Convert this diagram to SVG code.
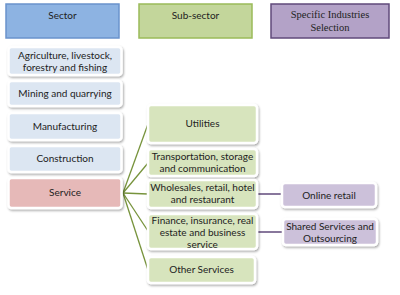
<svg xmlns="http://www.w3.org/2000/svg" width="400" height="295" viewBox="0 0 400 295">
<defs>
<filter id="sh" x="-10%" y="-20%" width="130%" height="150%">
<feDropShadow dx="1" dy="1.5" stdDeviation="1" flood-color="#000" flood-opacity="0.35"/>
</filter>
<style>
.t{font-family:Lato,"Open Sans","Liberation Sans",sans-serif;font-size:10px;fill:#222;text-anchor:middle}
.s{font-family:"Liberation Serif",serif;font-size:10.5px;fill:#222;text-anchor:middle}
.item{stroke:#fff;stroke-width:2.5;filter:url(#sh)}
.blue{fill:#dce6f2}
.red{fill:#e6b9b8}
.green{fill:#d7e4bd}
.purple{fill:#ccc1da}
.gl{stroke:#77933c;stroke-width:1.3;fill:none}
.pl{stroke:#604a7b;stroke-width:1.5;fill:none}
</style>
</defs>
<rect width="400" height="295" fill="#fff"/>
<g id="connectors">
<line class="gl" x1="123" y1="193" x2="148" y2="124"/>
<line class="gl" x1="123" y1="193" x2="148" y2="163"/>
<line class="gl" x1="123" y1="193" x2="148" y2="194"/>
<line class="gl" x1="123" y1="193" x2="148" y2="231"/>
<line class="gl" x1="123" y1="193" x2="148" y2="270"/>
<line class="pl" x1="257" y1="194" x2="282" y2="194"/>
<line class="pl" x1="257" y1="232" x2="283" y2="232"/>
</g>
<g id="h-sector">
<rect x="6" y="4" width="113" height="34" fill="#8db3e2" stroke="#6a93cc" stroke-width="1.5"/>
<text class="t" x="62.5" y="19">Sector</text>
</g>
<g id="h-subsector">
<rect x="139" y="4" width="113" height="34" fill="#c3d69b" stroke="#9bbb59" stroke-width="1.5"/>
<text class="t" x="195.5" y="19">Sub-sector</text>
</g>
<g id="h-specific">
<rect x="271" y="4" width="118" height="34" fill="#b3a2c7" stroke="#604a7b" stroke-width="1.5"/>
<text class="s" x="330" y="18">Specific Industries</text>
<text class="s" x="330" y="31">Selection</text>
</g>
<g id="agriculture">
<rect class="item blue" x="8.5" y="47" width="113" height="28" rx="3"/>
<text class="t" x="65" y="59">Agriculture, livestock,</text>
<text class="t" x="65" y="71">forestry and fishing</text>
</g>
<g id="mining">
<rect class="item blue" x="8.5" y="81" width="113" height="25" rx="3"/>
<text class="t" x="65" y="97">Mining and quarrying</text>
</g>
<g id="manufacturing">
<rect class="item blue" x="8.5" y="113" width="113" height="27" rx="3"/>
<text class="t" x="65" y="129.5">Manufacturing</text>
</g>
<g id="construction">
<rect class="item blue" x="8.5" y="146" width="113" height="26" rx="3"/>
<text class="t" x="65" y="161.5">Construction</text>
</g>
<g id="service">
<rect class="item red" x="8.5" y="178" width="113" height="30" rx="3"/>
<text class="t" x="65" y="196">Service</text>
</g>
<g id="utilities">
<rect class="item green" x="148" y="105" width="109" height="38" rx="3"/>
<text class="t" x="202.5" y="127">Utilities</text>
</g>
<g id="transportation">
<rect class="item green" x="148" y="149" width="109" height="27" rx="3"/>
<text class="t" x="202.5" y="160">Transportation, storage</text>
<text class="t" x="202.5" y="172">and communication</text>
</g>
<g id="wholesales">
<rect class="item green" x="148" y="180" width="109" height="28" rx="3"/>
<text class="t" x="202.5" y="191">Wholesales, retail, hotel</text>
<text class="t" x="202.5" y="203">and restaurant</text>
</g>
<g id="finance">
<rect class="item green" x="148" y="214" width="109" height="35" rx="3"/>
<text class="t" x="202.5" y="224">Finance, insurance, real</text>
<text class="t" x="202.5" y="236">estate and business</text>
<text class="t" x="202.5" y="248">service</text>
</g>
<g id="other">
<rect class="item green" x="148" y="257" width="107" height="26" rx="3"/>
<text class="t" x="201.5" y="273">Other Services</text>
</g>
<g id="online-retail">
<rect class="item purple" x="282" y="183" width="94" height="24" rx="3"/>
<text class="t" x="329" y="198.5">Online retail</text>
</g>
<g id="shared-services">
<rect class="item purple" x="283" y="219" width="94" height="26" rx="3"/>
<text class="t" x="330" y="230">Shared Services and</text>
<text class="t" x="330" y="242">Outsourcing</text>
</g>
</svg>
